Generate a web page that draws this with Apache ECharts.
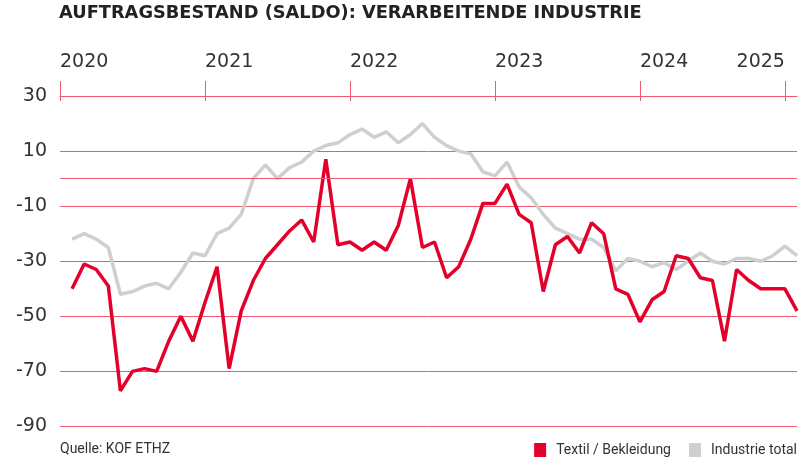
<!DOCTYPE html>
<html>
<head>
<meta charset="utf-8">
<script src="https://cdn.jsdelivr.net/npm/echarts@6/dist/echarts.min.js"></script>
<style>
  html, body { margin: 0; padding: 0; background: #fff; }
  #chart { width: 800px; height: 462px; }
</style>
</head>
<body>
<div id="chart"></div>
<script>
// month-end positions: index 0 = end of Dec 2019 (= start of 2020), then Jan 2020 ... Jan 2025
const months = ["2019-12"];
for (let y = 2020; y <= 2025; y++) {
  for (let m = 1; m <= 12; m++) {
    if (y === 2025 && m > 1) break;
    months.push(y + "-" + (m < 10 ? "0" + m : m));
  }
}

// Textil / Bekleidung, Jan 2020 - Jan 2025
const textil = [null,
  -40, -31, -33, -39, -77, -70, -69, -70, -59, -50, -59, -45,
  -32, -69, -48, -37, -29, -24, -19, -15, -23, 7, -24, -23,
  -26, -23, -26, -17, 0, -25, -23, -36, -32, -22, -9, -9,
  -2, -13, -16, -41, -24, -21, -27, -16, -20, -40, -42, -52,
  -44, -41, -28, -29, -36, -37, -59, -33, -37, -40, -40, -40,
  -48];

// Industrie total
const industrie = [null,
  -22, -20, -22, -25, -42, -41, -39, -38, -40, -34, -27, -28,
  -20, -18, -13, 0, 5, 0, 4, 6, 10, 12, 13, 16,
  18, 15, 17, 13, 16, 20, 15, 12, 10, 9, 2.5, 1,
  6, -3, -7, -13, -18, -20, -22, -22, -25, -33.5, -29, -30,
  -32, -30.5, -33, -30, -27, -30, -31, -29, -29, -30, -28, -24.5,
  -28];

const yTicks = [30, 10, -10, -30, -50, -70, -90];

const gridColor = "#ee5a70";
const red = "#e3002b";
const grey = "#cfcfcf";
const numFont = "DejaVu Sans";

const isYearStart = (idx, v) => v.slice(5) === "12";
const yearOf = (v) => (v.slice(5) === "12" ? String(+v.slice(0, 4) + 1) : "");
const lastIdx = 60;

const chart = echarts.init(document.getElementById("chart"));
chart.setOption({
  animation: false,
  title: [
    {
      text: "AUFTRAGSBESTAND (SALDO): VERARBEITENDE INDUSTRIE",
      left: 59,
      top: 4,
      padding: 0,
      textStyle: { fontFamily: numFont, fontWeight: "bold", fontSize: 17.8, color: "#222" },
    },
    {
      text: "Quelle: KOF ETHZ",
      left: 60,
      top: 442,
      padding: 0,
      textStyle: { fontFamily: "Roboto", fontWeight: "normal", fontSize: 14, color: "#333" },
    },
  ],
  legend: {
    right: 3,
    top: 443,
    padding: 0,
    icon: "rect",
    itemWidth: 12,
    itemHeight: 14,
    itemGap: 18,
    textStyle: { fontFamily: "Roboto", fontSize: 14, color: "#333", padding: [0, 0, 0, 5] },
    data: ["Textil / Bekleidung", "Industrie total"],
  },
  grid: { left: 60, right: 3, top: 96, bottom: 35.5 },
  xAxis: [
    {
      type: "category",
      data: months,
      boundaryGap: false,
      position: "top",
      axisLine: { onZero: false, lineStyle: { color: gridColor, width: 1 } },
      axisTick: { interval: isYearStart, length: 15, lineStyle: { color: gridColor } },
      axisLabel: {
        interval: (idx, v) => isYearStart(idx, v) && idx !== lastIdx,
        formatter: yearOf,
        align: "left",
        verticalAlign: "middle",
        margin: 34,
        fontFamily: numFont,
        fontSize: 19,
        color: "#333",
      },
      splitLine: { show: false },
    },
    {
      // only the right-aligned 2025 label and the short tick stubs below the line
      type: "category",
      data: months,
      boundaryGap: false,
      position: "top",
      axisLine: { show: false, onZero: false },
      axisTick: { inside: true, interval: isYearStart, length: 5, lineStyle: { color: gridColor } },
      axisLabel: {
        interval: (idx) => idx === lastIdx,
        formatter: yearOf,
        align: "right",
        verticalAlign: "middle",
        margin: 34,
        fontFamily: numFont,
        fontSize: 19,
        color: "#333",
      },
      splitLine: { show: false },
    },
  ],
  yAxis: {
    type: "value",
    min: yTicks[yTicks.length - 1],
    max: yTicks[0],
    interval: 20,
    axisLine: { show: false },
    axisTick: { show: false },
    axisLabel: {
      margin: 13,
      verticalAlign: "middle",
      padding: [0, 0, 11, 0],
      fontFamily: numFont,
      fontSize: 19,
      color: "#333",
    },
    splitLine: { lineStyle: { color: gridColor, width: 1 } },
  },
  series: [
    {
      name: "Textil / Bekleidung",
      type: "line",
      data: textil,
      symbol: "none",
      z: 4,
      color: red,
      lineStyle: { color: red, width: 3.5 },
    },
    {
      name: "Industrie total",
      type: "line",
      data: industrie,
      symbol: "none",
      z: 3,
      color: grey,
      lineStyle: { color: grey, width: 3.5 },
      markLine: {
        silent: true,
        symbol: ["none", "none"],
        label: { show: false },
        lineStyle: { color: gridColor, width: 1, type: "solid" },
        data: [{ yAxis: 0 }],
      },
    },
  ],
});
</script>
</body>
</html>
